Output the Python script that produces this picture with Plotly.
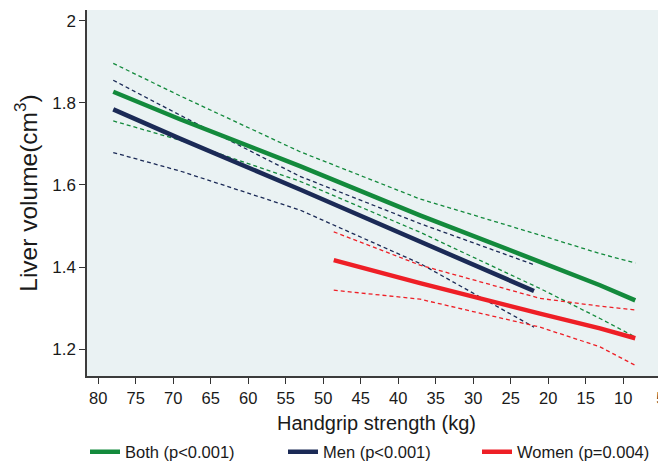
import plotly.graph_objects as go

# ---- data ----
both_x = [78.0, 69.1, 53.1, 37.1, 21.1, 13.1, 8.4]
both_fit = [1.827, 1.760, 1.646, 1.526, 1.413, 1.356, 1.319]
both_hi = [1.896, 1.817, 1.681, 1.566, 1.478, 1.433, 1.410]
both_lo = [1.756, 1.709, 1.609, 1.485, 1.348, 1.275, 1.230]

men_x = [78.0, 69.1, 53.1, 37.1, 21.9]
men_fit = [1.784, 1.713, 1.589, 1.462, 1.342]
men_hi = [1.855, 1.770, 1.621, 1.506, 1.406]
men_lo = [1.679, 1.634, 1.539, 1.409, 1.254]

women_x = [48.6, 37.1, 21.1, 13.1, 8.4]
women_fit = [1.417, 1.361, 1.287, 1.251, 1.227]
women_hi = [1.486, 1.405, 1.324, 1.305, 1.296]
women_lo = [1.344, 1.322, 1.254, 1.206, 1.161]

names = ["Both (p<0.001)", "Men (p<0.001)", "Women (p=0.004)"]
colors = ["#138a3c", "#1b2a56", "#ee1f26"]

x_ticks = [80, 75, 70, 65, 60, 55, 50, 45, 40, 35, 30, 25, 20, 15, 10, 5]
y_ticks = [1.2, 1.4, 1.6, 1.8, 2.0]
y_tick_text = ["1.2", "1.4", "1.6", "1.8", "2"]

groups = [
    (both_x, both_fit, both_hi, both_lo),
    (men_x, men_fit, men_hi, men_lo),
    (women_x, women_fit, women_hi, women_lo),
]
legend_ids = ["legend", "legend2", "legend3"]

# The page body adds an 8px margin, so the figure is sized/offset to compensate.
W, H = 658, 454
legend_x_px = [77, 275, 469]

fig = go.Figure()
# dashed confidence bands first
for (gx, gf, gh, gl), c in zip(groups, colors):
    for band in (gh, gl):
        fig.add_trace(go.Scatter(x=gx, y=band, mode="lines", showlegend=False,
                                 hoverinfo="skip",
                                 line=dict(color=c, width=1.3, dash="4px,3px")))
# fitted lines
for (gx, gf, gh, gl), c, n, lg in zip(groups, colors, names, legend_ids):
    fig.add_trace(go.Scatter(x=gx, y=gf, mode="lines", name=n, legend=lg,
                             line=dict(color=c, width=4.5)))

font_family = "Liberation Sans, Arial, sans-serif"

def legend_spec(px):
    return dict(orientation="h", xref="container", yref="container",
                x=px / W, xanchor="left", y=10 / H, yanchor="middle",
                font=dict(size=16.5, color="#1a1a1a"),
                itemwidth=30, bgcolor="rgba(0,0,0,0)")

fig.update_layout(
    width=W, height=H,
    margin=dict(l=79, r=0, t=2, b=86, autoexpand=False),
    paper_bgcolor="white",
    plot_bgcolor="#eaf2f3",
    font=dict(family=font_family, color="#1a1a1a", size=16),
    showlegend=True,
    legend=legend_spec(legend_x_px[0]),
    legend2=legend_spec(legend_x_px[1]),
    legend3=legend_spec(legend_x_px[2]),
)
fig.update_xaxes(
    range=[81.5, 4.3], tickmode="array", tickvals=x_ticks,
    ticks="outside", ticklen=6, tickwidth=1.2, tickcolor="#333333",
    showline=True, linecolor="#3c3c3c", linewidth=1.5,
    showgrid=False, zeroline=False, automargin=False,
    ticklabeloverflow="allow",
    tickfont=dict(size=16.5, color="#1a1a1a"),
    title=dict(text="Handgrip strength (kg)", font=dict(size=20), standoff=20),
)
fig.update_yaxes(
    range=[1.135, 2.026], tickmode="array", tickvals=y_ticks, ticktext=y_tick_text,
    ticks="outside", ticklen=6, tickwidth=1.2, tickcolor="#333333",
    showline=True, linecolor="#3c3c3c", linewidth=1.5,
    showgrid=False, zeroline=False, automargin=False,
    tickfont=dict(size=17, color="#1a1a1a"),
    title=dict(text="Liver volume(cm<sup>3</sup>)", font=dict(size=24.5), standoff=8),
)

fig.write_html("out.html")
